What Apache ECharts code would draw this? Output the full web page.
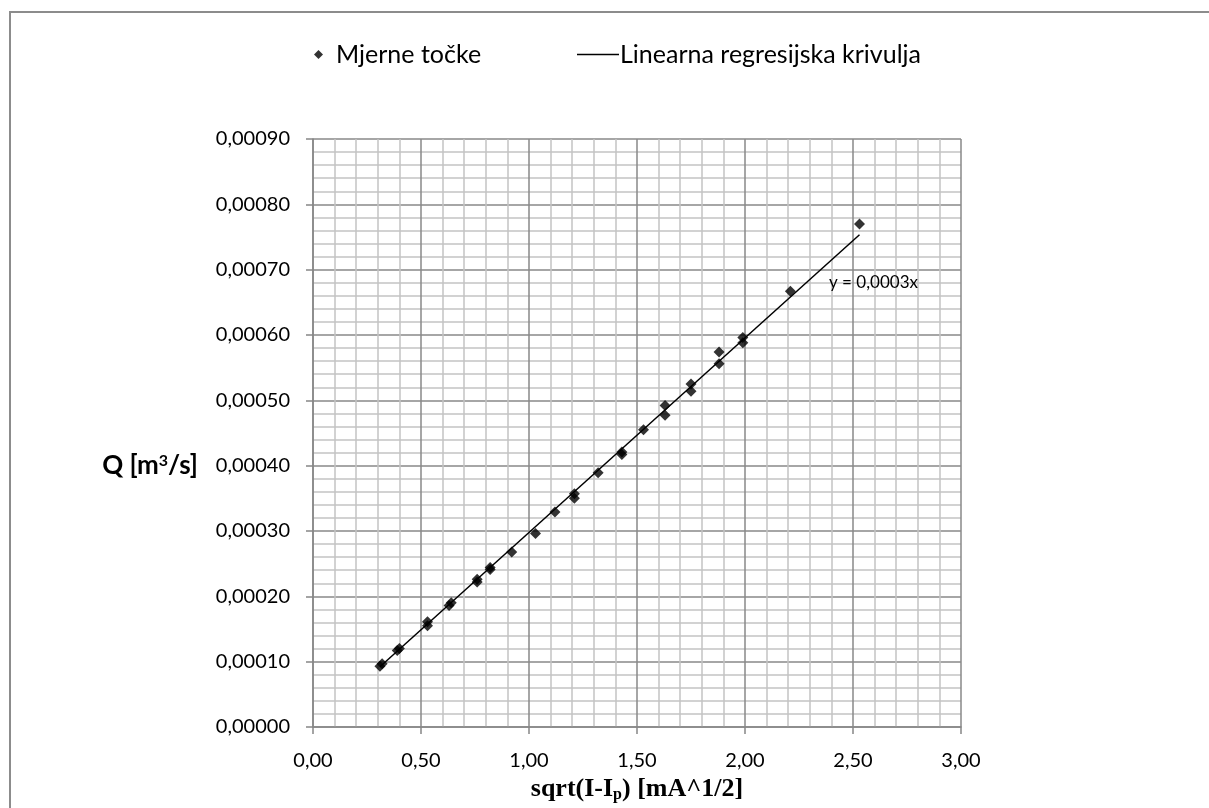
<!DOCTYPE html>
<html>
<head>
<meta charset="utf-8">
<script src="https://cdn.jsdelivr.net/npm/echarts@6/dist/echarts.min.js"></script>
<style>
html,body{margin:0;padding:0;background:#fff;}
#chart{width:1209px;height:808px;}
</style>
</head>
<body>
<div id="chart"></div>
<script>
// Data
const xValues = [0.31, 0.32, 0.39, 0.40, 0.53, 0.53, 0.63, 0.64, 0.76, 0.76, 0.82, 0.82, 0.92, 1.03, 1.12, 1.21, 1.21, 1.32, 1.43, 1.43, 1.53, 1.63, 1.63, 1.75, 1.75, 1.88, 1.88, 1.99, 1.99, 2.21, 2.53];
const qValues = [0.000093, 0.000097, 0.000117, 0.000120, 0.000155, 0.000161, 0.000186, 0.000190, 0.000222, 0.000226, 0.000241, 0.000244, 0.000268, 0.000296, 0.000329, 0.000350, 0.000357, 0.000389, 0.000417, 0.000421, 0.000455, 0.000477, 0.000492, 0.000514, 0.000525, 0.000556, 0.000574, 0.000588, 0.000596, 0.000667, 0.000770];
const xTicks = [0, 0.5, 1, 1.5, 2, 2.5, 3];
const yTicks = [0, 0.0001, 0.0002, 0.0003, 0.0004, 0.0005, 0.0006, 0.0007, 0.0008, 0.0009];
const seriesNames = ['Mjerne točke', 'Linearna regresijska krivulja'];
const equationText = 'y = 0,0003x';

// Linear regression through origin (Excel trendline with intercept 0)
let sxy = 0, sxx = 0;
for (let i = 0; i < xValues.length; i++) { sxy += xValues[i] * qValues[i]; sxx += xValues[i] * xValues[i]; }
const slope = sxy / sxx;
const xMin = Math.min(...xValues), xMax = Math.max(...xValues);
const trend = [[xMin, slope * xMin], [xMax, slope * xMax]];

const FONT = 'Lato';
const chart = echarts.init(document.getElementById('chart'));
chart.setOption({
  animation: false,
  backgroundColor: '#fff',
  textStyle: { fontFamily: FONT },
  grid: { left: 313, right: 248, top: 139, bottom: 76, containLabel: false },
  legend: [
    { data: [{ name: seriesNames[0], icon: 'diamond' }], left: 309, top: 37, itemWidth: 9, itemHeight: 9,
      textStyle: { fontSize: 25, color: '#000', fontFamily: FONT, padding: [0, 0, 0, 8] } },
    { data: [{ name: seriesNames[1], icon: 'rect' }], left: 572, top: 37, itemWidth: 42, itemHeight: 1.5,
      itemStyle: { color: '#000' },
      textStyle: { fontSize: 25, color: '#000', fontFamily: FONT, padding: [0, 0, 0, -4] } }
  ],
  xAxis: {
    type: 'value', min: xTicks[0], max: xTicks[xTicks.length - 1], interval: 0.5,
    name: '{a|sqrt(I-I}{b|p}{a|) [mA^1/2]}',
    nameLocation: 'middle', nameGap: 48,
    nameTextStyle: { rich: {
      a: { fontFamily: 'Liberation Serif', fontWeight: 'bold', fontSize: 26, color: '#000' },
      b: { fontFamily: 'Liberation Serif', fontWeight: 'bold', fontSize: 16, color: '#000', verticalAlign: 'bottom', padding: [12, 0, 0, 0] }
    } },
    axisLine: { show: true, onZero: false, lineStyle: { color: '#868686', width: 1.5 } },
    axisTick: { show: true, inside: false, length: 7, lineStyle: { color: '#868686', width: 1.5 } },
    axisLabel: { fontSize: 20, color: '#000', margin: 24, formatter: v => v.toFixed(2).replace('.', ',') },
    splitLine: { show: true, lineStyle: { color: '#888888', width: 1.5 } },
    minorTick: { show: false, splitNumber: 5 },
    minorSplitLine: { show: true, lineStyle: { color: '#c3c3c3', width: 1.5 } }
  },
  yAxis: {
    type: 'value', min: yTicks[0], max: yTicks[yTicks.length - 1], interval: 0.0001,
    name: '{a|Q [m}{s|3}{a|/s]}', nameLocation: 'middle', nameRotate: 0, nameGap: 115,
    nameTextStyle: { align: 'right', padding: [66, 0, 0, 0], rich: {
      a: { fontSize: 26, fontWeight: 'bold', color: '#000', fontFamily: FONT },
      s: { fontSize: 16, fontWeight: 'bold', color: '#000', fontFamily: FONT, verticalAlign: 'top', padding: [0, 0, 10, 0] }
    } },
    axisLine: { show: true, onZero: false, lineStyle: { color: '#868686', width: 1.5 } },
    axisTick: { show: true, inside: false, length: 7, lineStyle: { color: '#868686', width: 1.5 } },
    axisLabel: { fontSize: 20, color: '#000', margin: 23, formatter: v => v.toFixed(5).replace('.', ',') },
    splitLine: { show: true, lineStyle: { color: '#888888', width: 1.5 } },
    minorTick: { show: false, splitNumber: 5 },
    minorSplitLine: { show: true, lineStyle: { color: '#c3c3c3', width: 1.5 } }
  },
  graphic: [
    { type: 'rect', shape: { x: 10, y: 12, width: 1400, height: 1000 }, style: { fill: 'none', stroke: '#8c8c8c', lineWidth: 2 }, silent: true, z: 100 },
    { type: 'text', left: 829, top: 274, style: { text: equationText, fontSize: 17, fontFamily: FONT, fill: '#000' }, z: 100 }
  ],
  series: [
    { name: seriesNames[0], type: 'scatter', symbol: 'diamond', symbolSize: 11,
      itemStyle: { color: '#000' }, data: xValues.map((x, i) => [x, qValues[i]]), z: 3 },
    { name: seriesNames[1], type: 'line', symbol: 'none', showSymbol: false,
      lineStyle: { color: '#000', width: 1.5 }, itemStyle: { color: '#000' }, data: trend, z: 2 }
  ]
});
</script>
</body>
</html>
